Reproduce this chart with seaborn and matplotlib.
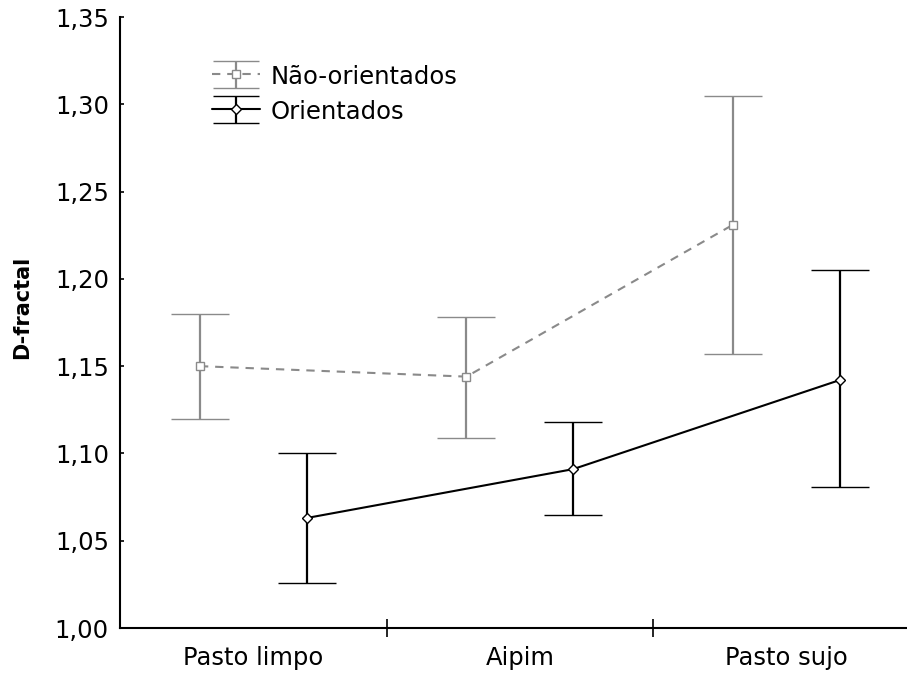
import numpy as np
import pandas as pd
import matplotlib
matplotlib.use("Agg")
import matplotlib.pyplot as plt
import seaborn as sns
from matplotlib.ticker import FixedLocator, FuncFormatter
from matplotlib.container import ErrorbarContainer
from matplotlib.legend_handler import HandlerErrorbar

# data
habitats = ["Pasto limpo", "Aipim", "Pasto sujo"]
nao_mean = [1.150, 1.144, 1.231]
nao_low = [1.120, 1.109, 1.157]
nao_high = [1.180, 1.178, 1.305]
ori_mean = [1.063, 1.091, 1.142]
ori_low = [1.026, 1.065, 1.081]
ori_high = [1.100, 1.118, 1.205]
y_ticks = [1.00, 1.05, 1.10, 1.15, 1.20, 1.25, 1.30, 1.35]


def main():
    sns.set_style("white")
    plt.rcParams["font.family"] = ["DejaVu Sans"]
    plt.rcParams["text.color"] = "black"
    plt.rcParams["xtick.color"] = "black"
    plt.rcParams["ytick.color"] = "black"
    plt.rcParams["axes.labelcolor"] = "black"

    df = pd.DataFrame({
        "habitat": habitats * 2,
        "grupo": ["Não-orientados"] * 3 + ["Orientados"] * 3,
        "media": nao_mean + ori_mean,
        "low": nao_low + ori_low,
        "high": nao_high + ori_high,
    })
    pos = {h: i for i, h in enumerate(habitats)}
    offset = {"Não-orientados": -0.2, "Orientados": 0.2}
    df["x"] = df["habitat"].map(pos) + df["grupo"].map(offset)

    styles = {
        "Não-orientados": dict(color="#8a8a8a", ls=(0, (4, 3.3)), marker="s", ms=6),
        "Orientados": dict(color="black", ls="-", marker="D", ms=5),
    }

    fig = plt.figure(figsize=(9.07, 6.75), dpi=100)
    ax = fig.add_axes([0.1323, 0.0696, 0.8677, 0.9052])

    handles = []
    for grp, st in styles.items():
        sub = df[df["grupo"] == grp]
        sns.lineplot(data=sub, x="x", y="media", ax=ax, color=st["color"],
                     linestyle=st["ls"], linewidth=1.5, legend=False, sort=False)
        yerr = np.vstack([sub["media"] - sub["low"], sub["high"] - sub["media"]])
        ax.errorbar(sub["x"], sub["media"], yerr=yerr, fmt=st["marker"],
                    color=st["color"], ecolor=st["color"], elinewidth=1.6,
                    capsize=21, capthick=1.6, ms=st["ms"], mfc="white",
                    mec=st["color"], mew=1.0, zorder=3)
        # legend proxy with narrower caps
        h = ax.errorbar([np.nan], [np.nan], yerr=[[np.nan], [np.nan]],
                        fmt=st["marker"], color=st["color"], ecolor=st["color"],
                        elinewidth=1.6, capsize=16.5, capthick=1.6, ms=st["ms"],
                        mfc="white", mec=st["color"], mew=1.0,
                        linestyle=st["ls"], linewidth=1.5, label=grp)
        handles.append(h)

    ax.set_xlim(-0.5, 2.453)
    ax.set_ylim(1.0, 1.35)
    ax.yaxis.set_major_locator(FixedLocator(y_ticks))
    ax.yaxis.set_major_formatter(FuncFormatter(lambda v, p: f"{v:.2f}".replace(".", ",")))
    ax.set_xticks(range(len(habitats)))
    ax.set_xticklabels(habitats)
    ax.xaxis.set_minor_locator(FixedLocator([0.5, 1.5]))
    ax.tick_params(axis="x", which="major", length=0, labelsize=17.5, pad=13)
    ax.tick_params(axis="x", which="minor", direction="inout", length=13,
                   width=1.2, bottom=True)
    ax.tick_params(axis="y", which="major", direction="in", length=3, width=1.2,
                   labelsize=17.5, pad=8, left=True)

    ax.set_xlabel("")
    ax.set_ylabel("D-fractal", fontsize=15, fontweight="bold")
    ax.yaxis.set_label_coords(-0.112, 0.525)

    sns.despine(ax=ax)
    for s in ["left", "bottom"]:
        ax.spines[s].set_linewidth(1.5)
        ax.spines[s].set_color("black")

    ax.legend(handles=handles, labels=list(styles.keys()), loc="upper left",
              bbox_to_anchor=(0.104, 0.938), frameon=False, fontsize=17.5,
              handlelength=2.0, handletextpad=0.45, labelspacing=0.45,
              borderaxespad=0, handleheight=1.0,
              handler_map={ErrorbarContainer: HandlerErrorbar(yerr_size=0.56)})
    fig.savefig("out.png", dpi=100)


if __name__ == "__main__":
    main()
